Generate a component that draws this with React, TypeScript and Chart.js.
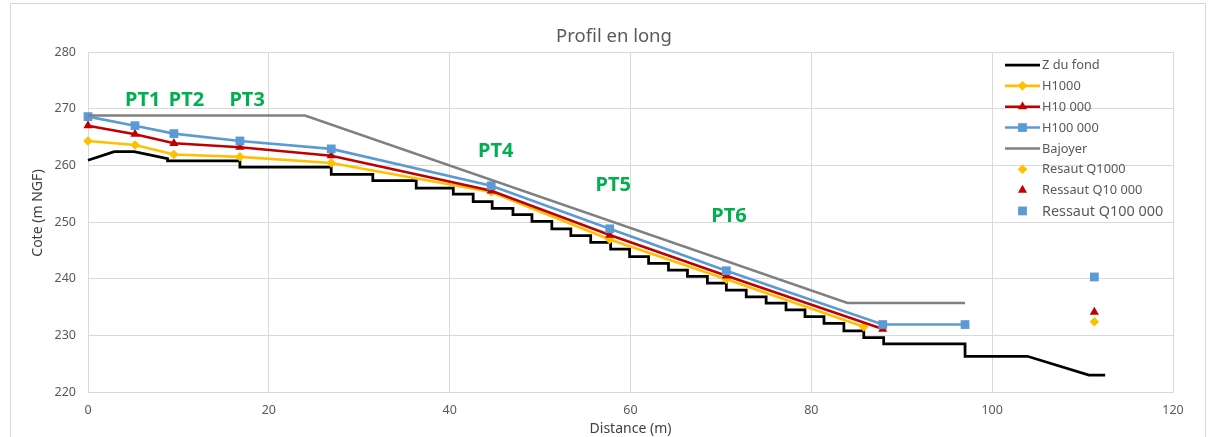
import React, { useEffect, useRef } from "react";
import { Chart, registerables } from "chart.js";

Chart.register(...registerables);

// Bed profile (Z du fond): vertices of the stepped channel floor
const fondDistance = [
  0, 2.9, 5.1, 8.8, 8.8, 16.8, 16.8, 26.9, 26.9, 31.5, 31.5, 36.3, 36.3, 40.4, 40.4,
  42.6, 42.6, 44.7, 44.7, 47.0, 47.0, 49.1, 49.1, 51.3, 51.3, 53.4, 53.4, 55.6, 55.6,
  57.8, 57.8, 59.9, 59.9, 62.0, 62.0, 64.2, 64.2, 66.3, 66.3, 68.5, 68.5, 70.6, 70.6,
  72.8, 72.8, 75.0, 75.0, 77.2, 77.2, 79.3, 79.3, 81.4, 81.4, 83.6, 83.6, 85.8, 85.8,
  88.0, 88.0, 97.0, 97.0, 103.9, 110.7, 112.5,
];
const fondCote = [
  260.9, 262.4, 262.4, 261.2, 260.8, 260.8, 259.7, 259.7, 258.4, 258.4, 257.3, 257.3, 256.0, 256.0, 254.9,
  254.9, 253.6, 253.6, 252.4, 252.4, 251.3, 251.3, 250.1, 250.1, 248.8, 248.8, 247.6, 247.6, 246.4,
  246.4, 245.2, 245.2, 243.9, 243.9, 242.7, 242.7, 241.5, 241.5, 240.4, 240.4, 239.2, 239.2, 238.0,
  238.0, 236.8, 236.8, 235.7, 235.7, 234.5, 234.5, 233.3, 233.3, 232.1, 232.1, 230.8, 230.8, 229.6,
  229.6, 228.5, 228.5, 226.3, 226.3, 223.0, 223.0,
];

// Water levels
const h1000Distance = [0, 5.2, 9.5, 16.8, 26.9, 44.6, 57.7, 70.6, 85.8];
const h1000Cote = [264.3, 263.6, 261.9, 261.5, 260.4, 255.3, 246.9, 239.9, 231.5];
const h10000Distance = [0, 5.2, 9.5, 16.8, 26.9, 44.6, 57.7, 70.6, 87.9];
const h10000Cote = [267.0, 265.5, 263.9, 263.2, 261.7, 255.5, 247.7, 240.5, 231.1];
const h100000Distance = [0, 5.2, 9.5, 16.8, 26.9, 44.6, 57.7, 70.6, 87.9, 97.0];
const h100000Cote = [268.6, 267.0, 265.6, 264.3, 262.9, 256.4, 248.8, 241.4, 231.9, 231.9];

// Wall crest
const bajoyerDistance = [0, 24.0, 84.0, 97.0];
const bajoyerCote = [268.8, 268.8, 235.7, 235.7];

// Hydraulic jump levels
const ressautDistance = [111.3];
const ressautQ1000 = [232.4];
const ressautQ10000 = [234.1];
const ressautQ100000 = [240.3];

// Section labels
const ptLabels = ["PT1", "PT2", "PT3", "PT4", "PT5", "PT6"];
const ptDistance = [6.05, 10.9, 17.6, 45.1, 58.1, 70.9];
const ptCote = [271.4, 271.4, 271.4, 262.4, 256.55, 251.0];

const xTicks = [0, 20, 40, 60, 80, 100, 120];
const yTicks = [220, 230, 240, 250, 260, 270, 280];

const FONT = "'Noto Sans', 'DejaVu Sans', sans-serif";
const GRID = "#d9d9d9";
const TEXT = "#595959";

const toXY = (xs: number[], ys: number[]) => xs.map((x, i) => ({ x, y: ys[i] }));

type Entry = {
  label: string;
  color: string;
  line: boolean;
  lineWidth: number;
  marker: "none" | "diamond" | "triangle" | "square";
  radius: number;
  fontSize: number;
};

const legendEntries: Entry[] = [
  { label: "Z du fond", color: "#000000", line: true, lineWidth: 2.75, marker: "none", radius: 0, fontSize: 12.8 },
  { label: "H1000", color: "#FFC000", line: true, lineWidth: 2.6, marker: "diamond", radius: 4.8, fontSize: 12.8 },
  { label: "H10 000", color: "#C00000", line: true, lineWidth: 2.6, marker: "triangle", radius: 5.3, fontSize: 12.8 },
  { label: "H100 000", color: "#5B9BD5", line: true, lineWidth: 2.6, marker: "square", radius: 6.2, fontSize: 12.8 },
  { label: "Bajoyer", color: "#808080", line: true, lineWidth: 2.5, marker: "none", radius: 0, fontSize: 12.8 },
  { label: "Resaut Q1000", color: "#FFC000", line: false, lineWidth: 0, marker: "diamond", radius: 4.8, fontSize: 12.8 },
  { label: "Ressaut Q10 000", color: "#C00000", line: false, lineWidth: 0, marker: "triangle", radius: 5.3, fontSize: 12.8 },
  { label: "Ressaut Q100 000", color: "#5B9BD5", line: false, lineWidth: 0, marker: "square", radius: 6.2, fontSize: 14.4 },
];

const styleOf: Record<string, string> = { none: "circle", diamond: "rectRot", triangle: "triangle", square: "rect" };

function drawMarker(ctx: CanvasRenderingContext2D, e: Entry, x: number, y: number) {
  if (e.marker === "none") return;
  ctx.fillStyle = e.color;
  ctx.beginPath();
  const r = e.radius;
  if (e.marker === "diamond") {
    ctx.moveTo(x, y - r);
    ctx.lineTo(x + r, y);
    ctx.lineTo(x, y + r);
    ctx.lineTo(x - r, y);
  } else if (e.marker === "triangle") {
    ctx.moveTo(x, y - r);
    ctx.lineTo(x + r * 0.866, y + r * 0.5);
    ctx.lineTo(x - r * 0.866, y + r * 0.5);
  } else {
    const s = r * Math.SQRT1_2;
    ctx.rect(x - s, y - s, 2 * s, 2 * s);
  }
  ctx.closePath();
  ctx.fill();
}

const decorations = {
  id: "decorations",
  beforeDraw(chart: Chart) {
    const { ctx, width, height } = chart;
    ctx.save();
    ctx.fillStyle = "#ffffff";
    ctx.fillRect(0, 0, width, height);
    ctx.restore();
  },
  afterDraw(chart: Chart) {
    const { ctx, chartArea, scales } = chart;
    const xs = scales.x;
    const ys = scales.y;
    ctx.save();

    // outer frame
    ctx.strokeStyle = GRID;
    ctx.lineWidth = 1;
    ctx.strokeRect(10.5, 3.5, 1195, 440);

    // title
    ctx.fillStyle = TEXT;
    ctx.font = `18.5px ${FONT}`;
    ctx.textAlign = "center";
    ctx.textBaseline = "middle";
    ctx.fillText("Profil en long", 614, 37);

    // axis titles
    ctx.fillStyle = "#404040";
    ctx.font = `14px ${FONT}`;
    ctx.fillText("Distance (m)", (chartArea.left + chartArea.right) / 2, 429);
    ctx.save();
    ctx.translate(38, 213);
    ctx.rotate(-Math.PI / 2);
    ctx.fillText("Cote (m NGF)", 0, 0);
    ctx.restore();

    // section labels
    ctx.fillStyle = "#00B050";
    ctx.font = `bold 20px ${FONT}`;
    ptLabels.forEach((t, i) => {
      ctx.fillText(t, xs.getPixelForValue(ptDistance[i]), ys.getPixelForValue(ptCote[i]));
    });

    // legend
    const lx0 = 1005;
    const lx1 = 1040;
    const ly0 = 65;
    const dy = 20.85;
    ctx.textAlign = "left";
    legendEntries.forEach((e, i) => {
      const y = ly0 + i * dy;
      if (e.line) {
        ctx.strokeStyle = e.color;
        ctx.lineWidth = e.lineWidth;
        ctx.beginPath();
        ctx.moveTo(lx0, y);
        ctx.lineTo(lx1, y);
        ctx.stroke();
      }
      drawMarker(ctx, e, (lx0 + lx1) / 2, y);
      ctx.fillStyle = TEXT;
      ctx.font = `${e.fontSize}px ${FONT}`;
      ctx.fillText(e.label, 1042, y + 0.5);
    });
    ctx.restore();
  },
};

export default function App() {
  const ref = useRef<HTMLCanvasElement | null>(null);

  useEffect(() => {
    if (!ref.current) return;
    Chart.defaults.font.family = FONT;

    const series = [
      { e: legendEntries[0], data: toXY(fondDistance, fondCote) },
      { e: legendEntries[1], data: toXY(h1000Distance, h1000Cote) },
      { e: legendEntries[2], data: toXY(h10000Distance, h10000Cote) },
      { e: legendEntries[3], data: toXY(h100000Distance, h100000Cote) },
      { e: legendEntries[4], data: toXY(bajoyerDistance, bajoyerCote) },
      { e: legendEntries[5], data: toXY(ressautDistance, ressautQ1000) },
      { e: legendEntries[6], data: toXY(ressautDistance, ressautQ10000) },
      { e: legendEntries[7], data: toXY(ressautDistance, ressautQ100000) },
    ];

    const datasets = series.map((s, i) => ({
      label: s.e.label,
      data: s.data,
      showLine: s.e.line,
      borderColor: s.e.color,
      backgroundColor: s.e.color,
      borderWidth: s.e.lineWidth,
      pointStyle: styleOf[s.e.marker] as any,
      pointRadius: s.e.radius,
      pointBorderWidth: 0,
      pointBackgroundColor: s.e.color,
      pointHoverRadius: s.e.radius,
      tension: 0,
      clip: false as any,
      order: series.length - i,
    }));

    const chart = new Chart(ref.current, {
      type: "scatter",
      data: { datasets },
      options: {
        responsive: false,
        animation: false,
        events: [],
        layout: { padding: { top: 52, right: 41, left: 0, bottom: 0 } },
        plugins: {
          legend: { display: false },
          title: { display: false },
          tooltip: { enabled: false },
        },
        scales: {
          x: {
            type: "linear",
            min: xTicks[0],
            max: xTicks[xTicks.length - 1],
            afterBuildTicks: (s: any) => {
              s.ticks = xTicks.map((v) => ({ value: v }));
            },
            afterFit: (s: any) => {
              s.height = 45;
            },
            ticks: { color: TEXT, font: { size: 12.5, family: FONT }, padding: 11 },
            grid: { color: GRID, drawTicks: false, lineWidth: 1 },
            border: { color: GRID },
          },
          y: {
            type: "linear",
            min: yTicks[0],
            max: yTicks[yTicks.length - 1],
            afterBuildTicks: (s: any) => {
              s.ticks = yTicks.map((v) => ({ value: v }));
            },
            afterFit: (s: any) => {
              s.width = 88;
            },
            ticks: { color: TEXT, font: { size: 12.5, family: FONT }, padding: 12 },
            grid: { color: GRID, drawTicks: false, lineWidth: 1 },
            border: { color: GRID },
          },
        },
      },
      plugins: [decorations],
    });

    return () => chart.destroy();
  }, []);

  return (
    <div style={{ position: "absolute", left: 0, top: 0, width: 1214, height: 437, background: "#fff" }}>
      <canvas ref={ref} width={1214} height={437} style={{ display: "block" }} />
    </div>
  );
}
